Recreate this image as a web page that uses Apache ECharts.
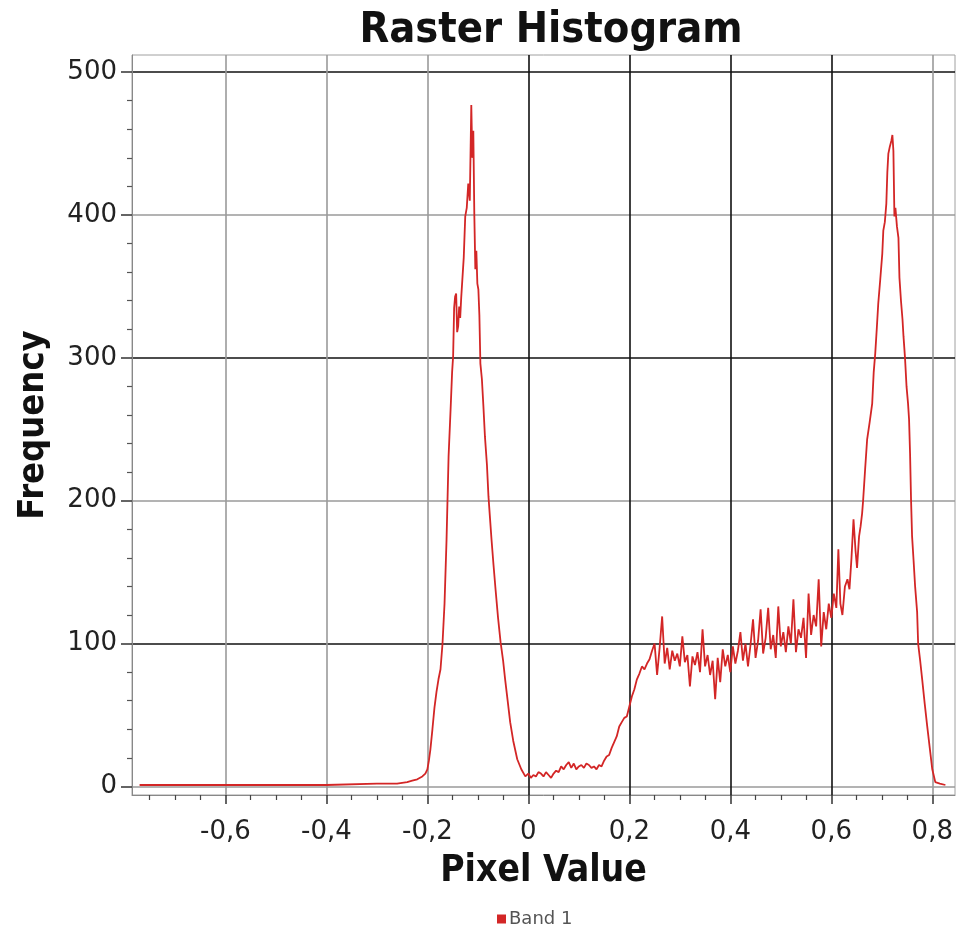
<!DOCTYPE html>
<html>
<head>
<meta charset="utf-8">
<title>Raster Histogram</title>
<script src="https://cdn.jsdelivr.net/npm/echarts@6/dist/echarts.min.js"></script>
<style>
  html, body { margin: 0; padding: 0; background: #fff; }
  #chart { width: 960px; height: 945px; }
</style>
</head>
<body>
<div id="chart"></div>
<script>
// bin centres (pixel value) and counts
const pixelValues = [
  -0.77, -0.6, -0.4, -0.3, -0.26, -0.24, -0.23, -0.22, -0.21, -0.204, -0.2, -0.197, -0.194, -0.19, -0.186,
  -0.182, -0.178, -0.174, -0.17, -0.166, -0.162, -0.158, -0.154, -0.151, -0.149, -0.147, -0.145, -0.143,
  -0.141, -0.139, -0.137, -0.135, -0.133, -0.131, -0.128, -0.125, -0.122, -0.119, -0.116, -0.113, -0.111,
  -0.109, -0.107, -0.105, -0.103, -0.101, -0.099, -0.097, -0.095, -0.092, -0.089, -0.086, -0.082, -0.079,
  -0.076, -0.073, -0.069, -0.065, -0.06, -0.055, -0.05, -0.046, -0.041, -0.036, -0.03, -0.022, -0.014, -0.006,
  0, 0.005, 0.01, 0.015, 0.02, 0.025, 0.03, 0.035, 0.04, 0.045, 0.05, 0.055, 0.06, 0.065, 0.07, 0.075, 0.08,
  0.085, 0.09, 0.095, 0.1, 0.105, 0.11, 0.115, 0.12, 0.125, 0.13, 0.135, 0.14, 0.145, 0.15, 0.155, 0.16,
  0.165, 0.17, 0.175, 0.18, 0.185, 0.19, 0.195, 0.2, 0.205, 0.21, 0.215, 0.22, 0.225, 0.23, 0.235, 0.24, 0.245,
  0.25, 0.255, 0.26, 0.265, 0.27, 0.275, 0.28, 0.285, 0.29, 0.295, 0.3, 0.305, 0.31, 0.315, 0.32, 0.325,
  0.33, 0.335, 0.34, 0.345, 0.35, 0.355, 0.36, 0.365, 0.37, 0.375, 0.38, 0.385, 0.39, 0.395, 0.4, 0.405,
  0.41, 0.415, 0.42, 0.425, 0.43, 0.435, 0.44, 0.445, 0.45, 0.455, 0.46, 0.465, 0.47, 0.475, 0.48, 0.485,
  0.49, 0.495, 0.5, 0.505, 0.51, 0.515, 0.52, 0.525, 0.53, 0.535, 0.54, 0.545, 0.55, 0.555, 0.56, 0.565,
  0.57, 0.575, 0.58, 0.585, 0.59, 0.595,
  0.6, 0.605, 0.61, 0.614, 0.618, 0.622, 0.627, 0.632, 0.636, 0.64, 0.644, 0.648, 0.651, 0.655, 0.658,
  0.661, 0.663, 0.667, 0.671, 0.676, 0.681, 0.684, 0.687, 0.69, 0.693, 0.697, 0.701, 0.703, 0.706, 0.709,
  0.711, 0.713, 0.716, 0.719, 0.721, 0.723, 0.725, 0.727, 0.73, 0.733, 0.735, 0.738, 0.741, 0.743, 0.746,
  0.749, 0.752, 0.754, 0.756, 0.758, 0.76, 0.763, 0.766, 0.77, 0.772, 0.776, 0.78, 0.785, 0.79, 0.795,
  0.8, 0.806, 0.815, 0.826
]
const frequencies = [
  1, 1, 1, 2, 2, 3, 4, 5, 7, 9, 12, 18, 26, 40, 55,
  66, 75, 82, 100, 128, 173, 231, 264, 290, 301, 335, 343, 345,
  318, 322, 336, 328, 342, 343, 370, 399, 405, 422, 410, 477, 440,
  459, 400, 362, 375, 352, 348, 330, 296, 285, 266, 245, 225, 203,
  188, 173, 155, 138, 118, 101, 88, 75, 60, 45, 32, 19, 12, 7,
  9, 6, 8, 7, 10, 9, 7, 10, 8, 6, 9, 11, 10, 14, 12, 15, 17,
  13, 16, 12, 14, 15, 13, 16, 15, 13, 14, 12, 15, 14, 18, 21, 22,
  27, 31, 35, 42, 45, 48, 49, 56, 63, 68, 75, 79, 84, 82, 86, 89, 95,
  100, 78, 97, 119, 86, 97, 82, 95, 88, 93, 84, 105, 87, 92, 70, 91,
  85, 94, 80, 110, 84, 92, 78, 88, 61, 90, 73, 96, 84, 92, 80, 98,
  86, 95, 108, 88, 100, 84, 99, 117, 90, 102, 124, 93, 104, 125, 96, 106,
  90, 126, 98, 108, 94, 112, 100, 131, 94, 110, 104, 118, 90, 135, 106, 120,
  112, 145, 98, 122, 110, 128,
  118, 135, 125, 166, 128, 120, 140, 145, 138, 160, 187, 165, 153, 175, 182,
  191, 200, 222, 243, 255, 268, 290, 303, 320, 338, 355, 373, 389, 395, 408,
  430, 443, 448, 452, 456, 445, 399, 405, 392, 384, 356, 340, 327, 315, 300,
  280, 268, 257, 233, 200, 175, 158, 140, 122, 100, 88, 75, 58, 42, 27,
  12, 3, 2, 1
]

const xMajorTicks = [-0.6, -0.4, -0.2, 0, 0.2, 0.4, 0.6, 0.8]
const xMinorTicks = [-0.75, -0.7, -0.65, -0.55, -0.5, -0.45, -0.35, -0.3, -0.25, -0.15, -0.1, -0.05,
  0.05, 0.1, 0.15, 0.25, 0.3, 0.35, 0.45, 0.5, 0.55, 0.65, 0.7, 0.75]
const yMajorTicks = [0, 100, 200, 300, 400, 500]
const yMinorTicks = [20, 40, 60, 80, 120, 140, 160, 180, 220, 240, 260, 280,
  320, 340, 360, 380, 420, 440, 460, 480]

const chart = echarts.init(document.getElementById('chart'))

const labelFont = 'Verdana, "DejaVu Sans", sans-serif'
const boldFont = '"DejaVu Sans Condensed", "DejaVu Sans", sans-serif'

const seriesData = pixelValues.map((v, i) => [v, frequencies[i]])

const option = {
  backgroundColor: '#fff',
  animation: false,
  title: {
    text: 'Raster Histogram',
    left: 546,
    textAlign: 'center',
    top: 4,
    textStyle: { fontFamily: boldFont, fontWeight: 'bold', fontSize: 43, color: '#111' }
  },
  legend: {
    bottom: 12,
    left: 492,
    icon: 'rect',
    itemWidth: 9,
    itemHeight: 9,
    itemGap: 4,
    data: ['Band 1'],
    textStyle: { fontFamily: labelFont, fontSize: 18, color: '#555', padding: [0, 0, 0, -2] }
  },
  grid: {
    left: 132,
    right: 5,
    top: 55,
    bottom: 150,
    show: true,
    borderColor: '#a0a0a0',
    borderWidth: 1
  },
  xAxis: [
    {
      type: 'value',
      min: -0.785,
      max: 0.845,
      position: 'bottom',
      name: 'Pixel Value',
      nameLocation: 'middle',
      nameGap: 58,
      nameTextStyle: { fontFamily: boldFont, fontWeight: 'bold', fontSize: 37, color: '#111' },
      axisLine: { show: true, onZero: false, lineStyle: { color: '#888', width: 1 } },
      axisTick: { show: true, customValues: xMajorTicks, length: 9, lineStyle: { color: '#333', width: 1.5 } },
      axisLabel: {
        customValues: xMajorTicks,
        margin: 24,
        fontFamily: labelFont,
        fontSize: 26,
        color: '#222',
        formatter: (v) => String(v).replace('.', ',')
      },
      splitLine: {
        show: true,
        lineStyle: { color: ['#9a9a9a', '#9a9a9a', '#9a9a9a', '#111', '#111', '#111', '#111', '#9a9a9a'], width: 1.6 }
      }
    },
    {
      type: 'value',
      min: -0.785,
      max: 0.845,
      position: 'bottom',
      axisLine: { show: false, onZero: false },
      axisTick: { show: true, customValues: xMinorTicks, length: 5, lineStyle: { color: '#444', width: 1.2 } },
      axisLabel: { show: false },
      splitLine: { show: false }
    }
  ],
  yAxis: [
    {
      type: 'value',
      min: -6,
      max: 512,
      position: 'left',
      name: 'Frequency',
      nameLocation: 'middle',
      nameGap: 80,
      nameTextStyle: { fontFamily: boldFont, fontWeight: 'bold', fontSize: 36, color: '#111' },
      axisLine: { show: true, onZero: false, lineStyle: { color: '#888', width: 1 } },
      axisTick: { show: true, customValues: yMajorTicks, length: 11, lineStyle: { color: '#333', width: 1.5 } },
      axisLabel: {
        customValues: yMajorTicks,
        margin: 15,
        fontFamily: labelFont,
        fontSize: 26,
        color: '#222'
      },
      splitLine: {
        show: true,
        lineStyle: { color: ['#9a9a9a', '#111'], width: 1.6 }
      }
    },
    {
      type: 'value',
      min: -6,
      max: 512,
      position: 'left',
      axisLine: { show: false, onZero: false },
      axisTick: { show: true, customValues: yMinorTicks, length: 5, lineStyle: { color: '#555', width: 1.2 } },
      axisLabel: { show: false },
      splitLine: { show: false }
    }
  ],
  series: [
    {
      name: 'Band 1',
      type: 'line',
      data: seriesData,
      showSymbol: false,
      symbol: 'rect',
      itemStyle: { color: '#d32626' },
      lineStyle: { color: '#d32626', width: 1.8 }
    }
  ]
}

chart.setOption(option)
</script>
</body>
</html>
